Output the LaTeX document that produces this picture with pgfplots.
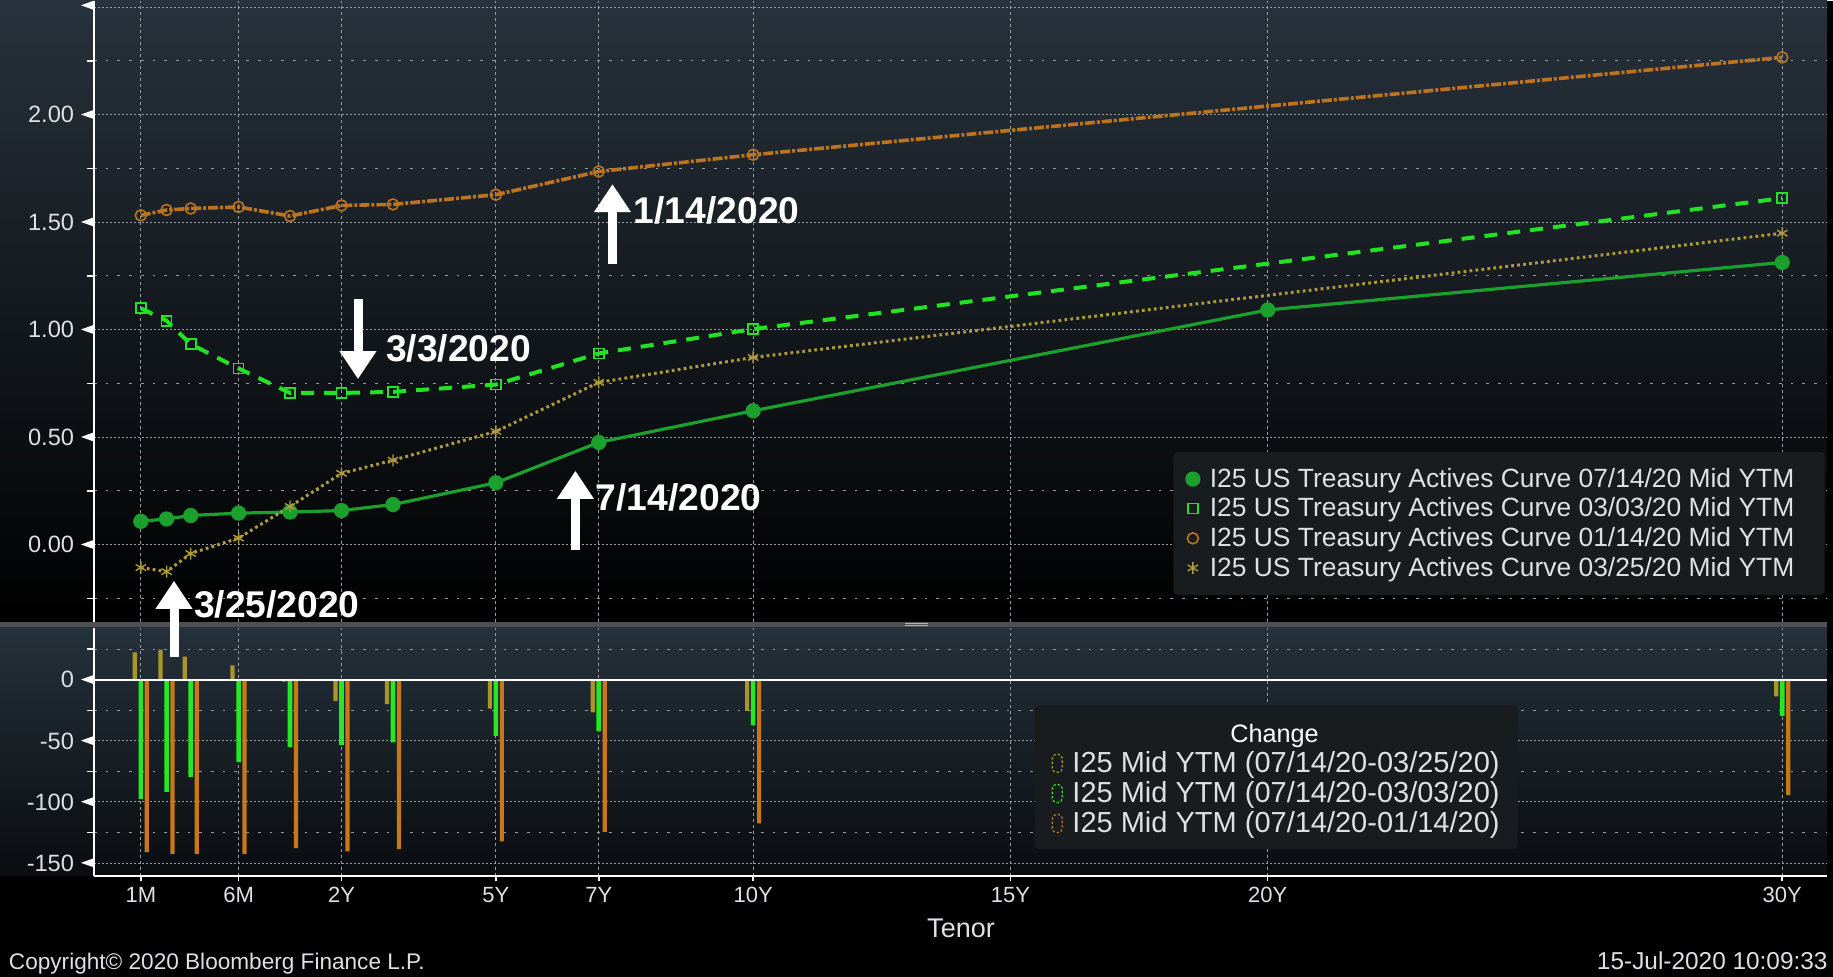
\documentclass[border=0pt]{standalone}
\usepackage{fontspec}
\setmainfont{Liberation Sans}
\usepackage{pgfplots}
\pgfplotsset{compat=1.18}
\usetikzlibrary{arrows.meta}

\definecolor{c714}{RGB}{28,160,45}
\definecolor{c33}{RGB}{35,225,35}
\definecolor{c114}{RGB}{188,116,32}
\definecolor{c325}{RGB}{175,155,60}
\definecolor{by}{RGB}{170,150,40}
\definecolor{bgr}{RGB}{40,230,40}
\definecolor{bo}{RGB}{200,120,25}
\definecolor{gridc}{RGB}{150,155,162}
\definecolor{lab}{RGB}{222,224,228}
\definecolor{legbg}{RGB}{25,28,31}
\definecolor{topU}{RGB}{40,50,60}
\definecolor{midU}{RGB}{18,23,29}
\definecolor{topL}{RGB}{37,49,59}
\definecolor{botL}{RGB}{10,12,15}
\definecolor{sepc}{RGB}{78,80,83}

\protected\def\tri{\hspace{3.5pt}\tikz[baseline=-4.2pt]\fill[white] (0pt,0pt) -- (6.3pt,2.25pt) -- (6.3pt,-2.25pt) -- cycle;}
\protected\def\rpad{\hspace*{7.8pt}}

\pgfplotsset{
  bbg/.style={
    scale only axis, width=866.5pt,
    xmin=-2.81, xmax=30.87,
    axis lines*=left,
    axis line style={-, white, line width=0.8pt},
    xtick={-1.9,0,2,5,7,10,15,20,30},
    xmajorgrids, ymajorgrids, yminorgrids,
    major x grid style={gridc, line width=0.5pt, dash pattern=on 1.5pt off 1.5pt},
    major y grid style={gridc, line width=0.5pt, dash pattern=on 0.85pt off 1.15pt},
    minor y grid style={gridc, line width=0.5pt, dash pattern=on 1.35pt off 4.5pt},
    tick align=outside,
    major tick length=2.5pt, minor tick length=3.5pt,
    tick style={white, line width=0.8pt},
    yticklabel style={font=\fontsize{11.8}{13}\selectfont, text=lab, inner sep=0pt, anchor=east, xshift=2.5pt},
  }
}

\begin{document}
\begin{tikzpicture}
% backgrounds
\fill[black] (0pt,0pt) rectangle (916.5pt,488pt);
\shade[top color=topU, middle color=midU, bottom color=black] (0pt,177.65pt) rectangle (913.5pt,488pt);
\fill[sepc] (0pt,174.65pt) rectangle (913.5pt,177.65pt);
\shade[top color=topL, bottom color=botL] (0pt,50.5pt) rectangle (913.5pt,174.65pt);
\draw[gray!60, line width=0.5pt] (452.5pt,176.65pt) -- (464pt,176.65pt);
\draw[gray!60, line width=0.5pt] (452.5pt,175.6pt) -- (464pt,175.6pt);

% upper panel
\begin{axis}[bbg, at={(47pt,177.65pt)}, anchor=south west, height=310.35pt,
  ymin=-0.357, ymax=2.53,
  x axis line style={draw=none}, xtick style={draw=none}, xticklabel=\empty,
  ytick={0,0.5,1,1.5,2,2.5},
  yticklabels={0.00\tri,0.50\tri,1.00\tri,1.50\tri,2.00\tri,\tri},
  minor ytick={-0.25,0.25,0.75,1.25,1.75,2.25},
  legend style={at={(0.9988,0.2734)}, anchor=north east, fill=legbg, draw=none,
    rounded corners=2pt, text=lab, font=\fontsize{13.2}{14.3}\selectfont,
    inner xsep=6.8pt, inner ysep=7.4pt, nodes={inner sep=0.5pt}, row sep=2.75pt, column sep=5pt},
  legend cell align=left,
  legend image code/.code={\draw[#1, only marks] plot coordinates {(3pt,0pt)};},
]
\addplot[c714, line width=1.6pt, mark=*, mark size=3pt, mark options={solid, fill=c714}] coordinates {
(-1.9,0.109) (-1.4,0.120) (-0.93,0.136) (0,0.147) (1,0.152) (2,0.159) (3,0.187) (5,0.288) (7,0.476) (10,0.623) (20,1.092) (30,1.313)};
\addlegendentry{I25 US Treasury Actives Curve 07/14/20 Mid YTM\rpad}
\addplot[c33, line width=2pt, dash pattern=on 6.5pt off 5pt, mark=square, mark size=2.5pt, mark options={solid, line width=0.8pt}] coordinates {
(-1.9,1.100) (-1.4,1.042) (-0.93,0.933) (0,0.820) (1,0.706) (2,0.706) (3,0.711) (5,0.745) (7,0.890) (10,1.003) (30,1.612)};
\addlegendentry{I25 US Treasury Actives Curve 03/03/20 Mid YTM\rpad}
\addplot[c114, line width=1.8pt, dash pattern=on 5pt off 1pt on 1.5pt off 1pt, mark=o, mark size=2.75pt, mark options={solid, line width=0.8pt}] coordinates {
(-1.9,1.532) (-1.4,1.557) (-0.93,1.564) (0,1.571) (1,1.529) (2,1.578) (3,1.583) (5,1.628) (7,1.736) (10,1.814) (30,2.267)};
\addlegendentry{I25 US Treasury Actives Curve 01/14/20 Mid YTM\rpad}
\addplot[c325, line width=1.5pt, dash pattern=on 1.4pt off 1.6pt, mark=asterisk, mark size=3pt, mark options={solid, line width=0.7pt}] coordinates {
(-1.9,-0.106) (-1.4,-0.125) (-0.93,-0.041) (0,0.031) (1,0.178) (2,0.332) (3,0.393) (5,0.527) (7,0.755) (10,0.871) (30,1.449)};
\addlegendentry{I25 US Treasury Actives Curve 03/25/20 Mid YTM\rpad}
\end{axis}

% lower panel
\begin{axis}[bbg, at={(47pt,50.5pt)}, anchor=south west, height=124.15pt,
  ymin=-160.4, ymax=42.8,
  ytick={-150,-100,-50,0},
  yticklabels={-150\tri,-100\tri,-50\tri,0\tri},
  minor ytick={-125,-75,-25,25},
  xticklabels={1M,6M,2Y,5Y,7Y,10Y,15Y,20Y,30Y},
  xticklabel style={font=\fontsize{11}{13}\selectfont, text=lab, anchor=base, inner sep=0pt, yshift=-10.85pt},
  legend style={at={(0.8217,0.6887)}, anchor=north east, fill=legbg, draw=none,
    rounded corners=2pt, text=lab, font=\fontsize{14.5}{15}\selectfont,
    inner xsep=8.5pt, inner ysep=6.2pt, nodes={inner sep=0.5pt}, row sep=2.05pt, column sep=4.3pt},
  legend cell align=left,
]
\addplot[ybar, bar width=2.1pt, bar shift=-3pt, fill=by, draw=none, forget plot] coordinates {
(-1.9,22.5) (-1.4,24.7) (-0.93,18.9) (0,11.8) (1,-1.5) (2,-17.2) (3,-19.9) (5,-23.5) (7,-26.7) (10,-25.4) (30,-13.6)};
\addplot[ybar, bar width=2.3pt, bar shift=0pt, fill=bgr, draw=none, forget plot] coordinates {
(-1.9,-97.5) (-1.4,-91.8) (-0.93,-79.5) (0,-67.4) (1,-55) (2,-53.5) (3,-51.3) (5,-45.8) (7,-41.7) (10,-37.1) (30,-29.5)};
\addplot[ybar, bar width=2.1pt, bar shift=3pt, fill=bo, draw=none, forget plot] coordinates {
(-1.9,-141) (-1.4,-142.5) (-0.93,-142.5) (0,-142.5) (1,-137.8) (2,-140.4) (3,-138.5) (5,-132.3) (7,-124.4) (10,-117.5) (30,-94.4)};
\draw[white, line width=0.8pt] (axis cs:-2.81,0) -- (axis cs:30.87,0);
\addlegendimage{empty legend}
\addlegendentry{\hspace*{79pt}\rule{0pt}{11.8pt}{\color{white}\fontsize{12.6}{14}\selectfont Change}}
\addlegendimage{legend image code/.code={\draw[by, line width=0.6pt, dash pattern=on 1.2pt off 1pt] (0pt,-4.5pt) rectangle (5pt,4.5pt);}}
\addlegendentry{I25 Mid YTM (07/14/20-03/25/20)}
\addlegendimage{legend image code/.code={\draw[bgr, line width=0.6pt, dash pattern=on 1.2pt off 1pt] (0pt,-4.5pt) rectangle (5pt,4.5pt);}}
\addlegendentry{I25 Mid YTM (07/14/20-03/03/20)}
\addlegendimage{legend image code/.code={\draw[bo, line width=0.6pt, dash pattern=on 1.2pt off 1pt] (0pt,-4.5pt) rectangle (5pt,4.5pt);}}
\addlegendentry{I25 Mid YTM (07/14/20-01/14/20)}
\end{axis}

% annotations
\begin{scope}[white, line width=4.5pt, -{Triangle[width=17.5pt,length=14pt]}]
\draw (306.25pt,356.35pt) -- (306.25pt,396.35pt);
\draw (179pt,338.85pt) -- (179pt,298.85pt);
\draw (287.7pt,213.35pt) -- (287.7pt,253pt);
\draw (87pt,160pt) -- (87pt,198pt);
\end{scope}
\begin{scope}[every node/.style={anchor=base west, inner sep=0pt, text=white, font=\fontsize{18.6}{20}\selectfont\bfseries}]
\node at (316.75pt,376.5pt) {1/14/2020};
\node at (192.85pt,307.65pt) {3/3/2020};
\node at (297.75pt,233.35pt) {7/14/2020};
\node at (96.9pt,179.7pt) {3/25/2020};
\end{scope}

\node[anchor=base, inner sep=0pt, text=lab, font=\fontsize{13.5}{15}\selectfont] at (480.5pt,19.5pt) {Tenor};
\node[anchor=base west, inner sep=0pt, text=lab, font=\fontsize{11.3}{13}\selectfont] at (4.3pt,3.5pt) {Copyright© 2020 Bloomberg Finance L.P.};
\node[anchor=base east, inner sep=0pt, text=lab, font=\fontsize{12.2}{14}\selectfont] at (914pt,3.5pt) {15-Jul-2020 10:09:33};
\end{tikzpicture}
\end{document}
